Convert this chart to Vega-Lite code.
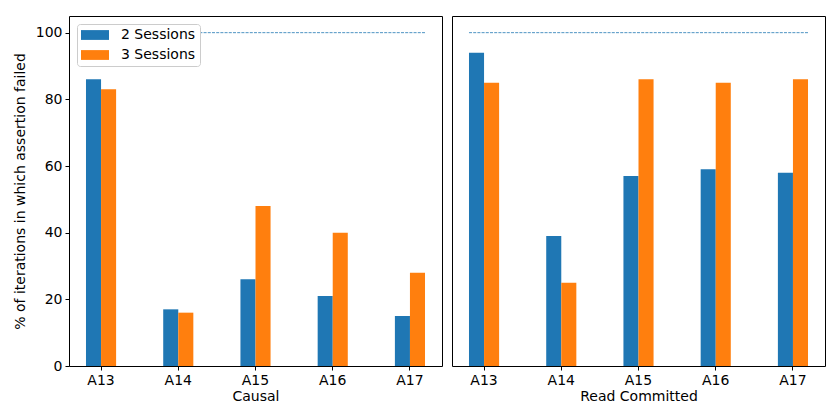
{
  "$schema": "https://vega.github.io/schema/vega-lite/v6.json",
  "padding": {"left": 12, "top": 15, "right": 5, "bottom": 5},
  "config": {
    "font": "DejaVu Sans",
    "view": {"stroke": "black", "strokeWidth": 1},
    "axis": {"labelFont": "DejaVu Sans", "labelFontSize": 14, "labelColor": "black", "titleFont": "DejaVu Sans", "titleFontSize": 14, "titleFontWeight": "normal", "titleColor": "black", "tickColor": "black", "tickSize": 4, "domain": false, "grid": false, "labelPadding": 3},
    "legend": {"orient": "top-left", "offset": 8, "fillColor": "white", "strokeColor": "#cccccc", "cornerRadius": 3, "padding": 4, "labelFontSize": 14, "labelFont": "DejaVu Sans", "labelColor": "black", "symbolType": "M-1,-0.7H3V0.7H-1Z", "symbolSize": 196, "symbolStrokeWidth": 0, "symbolOpacity": 1, "rowPadding": 6, "labelOffset": 26}
  },
  "datasets": {
    "bars": [
      {"isolation": "Causal", "assertion": "A13", "sessions": "2 Sessions", "pct": 86},
      {"isolation": "Causal", "assertion": "A13", "sessions": "3 Sessions", "pct": 83},
      {"isolation": "Causal", "assertion": "A14", "sessions": "2 Sessions", "pct": 17},
      {"isolation": "Causal", "assertion": "A14", "sessions": "3 Sessions", "pct": 16},
      {"isolation": "Causal", "assertion": "A15", "sessions": "2 Sessions", "pct": 26},
      {"isolation": "Causal", "assertion": "A15", "sessions": "3 Sessions", "pct": 48},
      {"isolation": "Causal", "assertion": "A16", "sessions": "2 Sessions", "pct": 21},
      {"isolation": "Causal", "assertion": "A16", "sessions": "3 Sessions", "pct": 40},
      {"isolation": "Causal", "assertion": "A17", "sessions": "2 Sessions", "pct": 15},
      {"isolation": "Causal", "assertion": "A17", "sessions": "3 Sessions", "pct": 28},
      {"isolation": "Read Committed", "assertion": "A13", "sessions": "2 Sessions", "pct": 94},
      {"isolation": "Read Committed", "assertion": "A13", "sessions": "3 Sessions", "pct": 85},
      {"isolation": "Read Committed", "assertion": "A14", "sessions": "2 Sessions", "pct": 39},
      {"isolation": "Read Committed", "assertion": "A14", "sessions": "3 Sessions", "pct": 25},
      {"isolation": "Read Committed", "assertion": "A15", "sessions": "2 Sessions", "pct": 57},
      {"isolation": "Read Committed", "assertion": "A15", "sessions": "3 Sessions", "pct": 86},
      {"isolation": "Read Committed", "assertion": "A16", "sessions": "2 Sessions", "pct": 59},
      {"isolation": "Read Committed", "assertion": "A16", "sessions": "3 Sessions", "pct": 85},
      {"isolation": "Read Committed", "assertion": "A17", "sessions": "2 Sessions", "pct": 58},
      {"isolation": "Read Committed", "assertion": "A17", "sessions": "3 Sessions", "pct": 86}
    ],
    "limit": [{"from": "A13", "to": "A17", "value": 100}]
  },
  "spacing": 8,
  "resolve": {"scale": {"color": "independent", "y": "independent", "x": "independent"}, "legend": {"color": "independent"}},
  "hconcat": [
    {
      "width": 373, "height": 350,
      "layer": [
        {
          "data": {"name": "bars"},
          "transform": [{"filter": "datum.isolation === 'Causal'"}],
          "mark": {"type": "bar"},
          "encoding": {
            "x": {"field": "assertion", "type": "nominal", "scale": {"domain": ["A13", "A14", "A15", "A16", "A17"], "paddingInner": 0.61, "paddingOuter": 0.22}, "axis": {"title": "Causal", "labelAngle": 0, "titlePadding": 2}},
            "xOffset": {"field": "sessions", "type": "nominal", "scale": {"paddingInner": 0, "paddingOuter": 0}},
            "y": {"field": "pct", "type": "quantitative", "scale": {"domain": [0, 105], "nice": false}, "axis": {"title": "% of iterations in which assertion failed", "values": [0, 20, 40, 60, 80, 100], "titlePadding": 8}},
            "color": {"field": "sessions", "type": "nominal", "scale": {"domain": ["2 Sessions", "3 Sessions"], "range": ["#1f77b4", "#ff7f0e"]}, "legend": {"title": null}}
          }
        },
        {
          "data": {"name": "limit"},
          "mark": {"type": "rule", "strokeDash": [3, 1.2], "strokeWidth": 0.8, "color": "#1f77b4"},
          "encoding": {
            "x": {"field": "from", "type": "nominal", "bandPosition": 0, "axis": {"title": "Causal", "labelAngle": 0, "titlePadding": 2}},
            "x2": {"field": "to", "bandPosition": 1},
            "y": {"field": "value", "type": "quantitative"}
          }
        }
      ]
    },
    {
      "width": 373, "height": 350,
      "layer": [
        {
          "data": {"name": "bars"},
          "transform": [{"filter": "datum.isolation === 'Read Committed'"}],
          "mark": {"type": "bar"},
          "encoding": {
            "x": {"field": "assertion", "type": "nominal", "scale": {"domain": ["A13", "A14", "A15", "A16", "A17"], "paddingInner": 0.61, "paddingOuter": 0.22}, "axis": {"title": "Read Committed", "labelAngle": 0, "titlePadding": 2}},
            "xOffset": {"field": "sessions", "type": "nominal", "scale": {"paddingInner": 0, "paddingOuter": 0}},
            "y": {"field": "pct", "type": "quantitative", "scale": {"domain": [0, 105], "nice": false}, "axis": null},
            "color": {"field": "sessions", "type": "nominal", "scale": {"domain": ["2 Sessions", "3 Sessions"], "range": ["#1f77b4", "#ff7f0e"]}, "legend": null}
          }
        },
        {
          "data": {"name": "limit"},
          "mark": {"type": "rule", "strokeDash": [3, 1.2], "strokeWidth": 0.8, "color": "#1f77b4"},
          "encoding": {
            "x": {"field": "from", "type": "nominal", "bandPosition": 0, "axis": {"title": "Read Committed", "labelAngle": 0, "titlePadding": 2}},
            "x2": {"field": "to", "bandPosition": 1},
            "y": {"field": "value", "type": "quantitative"}
          }
        }
      ]
    }
  ]
}
